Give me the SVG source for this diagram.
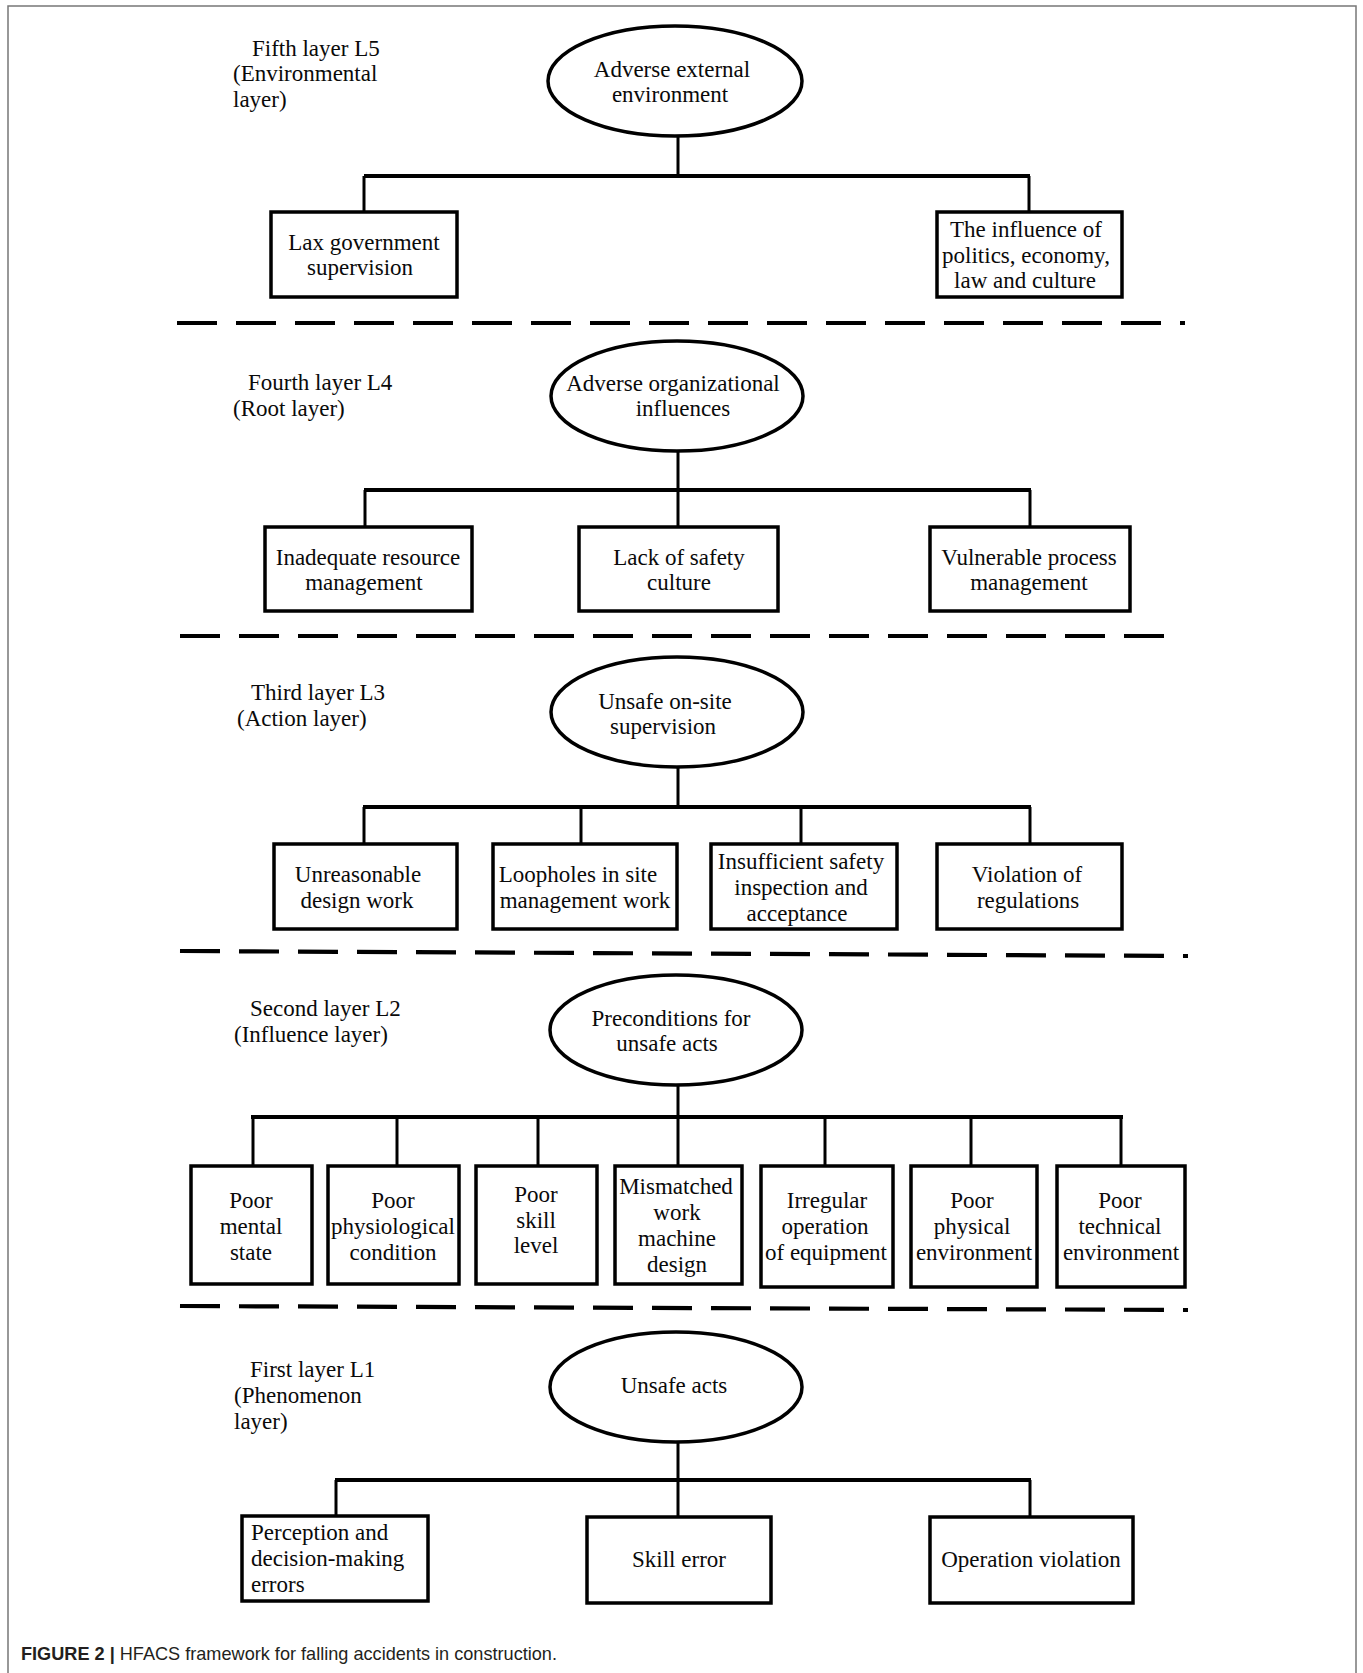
<svg xmlns="http://www.w3.org/2000/svg" width="1363" height="1673" viewBox="0 0 1363 1673">
<style>
.bg{fill:#fff}
.frame{fill:none;stroke:#777;stroke-width:1.5}
.node rect,.node ellipse{fill:#fff;stroke:#000;stroke-width:3.5}
.t{font-family:"Liberation Serif","Times New Roman",serif;font-size:23px;fill:#0a0a0a;text-anchor:middle}
.lbl{font-family:"Liberation Serif","Times New Roman",serif;font-size:23px;fill:#0a0a0a}
.conn line{stroke:#000;stroke-width:3;fill:none}
.conn line.bus{stroke-width:3.8}
.dash{stroke:#000;stroke-width:4.2;stroke-dasharray:40 19;fill:none}
.cap{font-family:"Liberation Sans",Arial,sans-serif;font-size:19px;fill:#231f20}
</style>
<rect class="bg" x="0" y="0" width="1363" height="1673"/>
<rect class="frame" x="8" y="6" width="1348" height="1720"/>

<!-- layer labels -->
<g id="labels">
<text class="lbl" x="252" y="56">Fifth layer L5</text>
<text class="lbl" x="233" y="81">(Environmental</text>
<text class="lbl" x="233" y="107">layer)</text>
<text class="lbl" x="248" y="390">Fourth layer L4</text>
<text class="lbl" x="233" y="416">(Root layer)</text>
<text class="lbl" x="251" y="700">Third layer L3</text>
<text class="lbl" x="237" y="726">(Action layer)</text>
<text class="lbl" x="250" y="1016">Second layer L2</text>
<text class="lbl" x="234" y="1042">(Influence layer)</text>
<text class="lbl" x="250" y="1377">First layer L1</text>
<text class="lbl" x="234" y="1403">(Phenomenon</text>
<text class="lbl" x="234" y="1429">layer)</text>
</g>

<!-- separators -->
<g id="separators">
<line class="dash" x1="177" y1="323" x2="1185" y2="323"/>
<line class="dash" x1="180" y1="636" x2="1168" y2="636"/>
<line class="dash" x1="180" y1="951" x2="1188" y2="956"/>
<line class="dash" x1="180" y1="1306" x2="1188" y2="1310"/>
</g>

<!-- connectors -->
<g id="connectors" class="conn">
<!-- L5 -->
<line x1="678" y1="136" x2="678" y2="176"/>
<line class="bus" x1="364" y1="176" x2="1030" y2="176"/>
<line x1="364" y1="176" x2="364" y2="212"/>
<line x1="1029" y1="176" x2="1029" y2="212"/>
<!-- L4 -->
<line x1="678" y1="450" x2="678" y2="490"/>
<line class="bus" x1="364" y1="490" x2="1031" y2="490"/>
<line x1="365" y1="490" x2="365" y2="527"/>
<line x1="678" y1="490" x2="678" y2="527"/>
<line x1="1030" y1="490" x2="1030" y2="527"/>
<!-- L3 -->
<line x1="678" y1="767" x2="678" y2="807"/>
<line class="bus" x1="363" y1="807" x2="1031" y2="807"/>
<line x1="364" y1="807" x2="364" y2="844"/>
<line x1="581" y1="807" x2="581" y2="844"/>
<line x1="801" y1="807" x2="801" y2="844"/>
<line x1="1030" y1="807" x2="1030" y2="844"/>
<!-- L2 -->
<line x1="678" y1="1085" x2="678" y2="1117"/>
<line class="bus" x1="251" y1="1117" x2="1123" y2="1117"/>
<line x1="253" y1="1117" x2="253" y2="1166"/>
<line x1="397" y1="1117" x2="397" y2="1166"/>
<line x1="538" y1="1117" x2="538" y2="1166"/>
<line x1="678" y1="1117" x2="678" y2="1166"/>
<line x1="825" y1="1117" x2="825" y2="1166"/>
<line x1="971" y1="1117" x2="971" y2="1166"/>
<line x1="1121" y1="1117" x2="1121" y2="1166"/>
<!-- L1 -->
<line x1="678" y1="1442" x2="678" y2="1480"/>
<line class="bus" x1="335" y1="1480" x2="1031" y2="1480"/>
<line x1="336" y1="1480" x2="336" y2="1516"/>
<line x1="678" y1="1480" x2="678" y2="1517"/>
<line x1="1030" y1="1480" x2="1030" y2="1517"/>
</g>

<!-- L5 nodes -->
<g id="adverse-external-environment" class="node">
<ellipse cx="675" cy="81" rx="127" ry="55"/>
<text class="t" x="672" y="77">Adverse external</text>
<text class="t" x="670" y="102">environment</text>
</g>
<g id="lax-government-supervision" class="node">
<rect x="271" y="212" width="186" height="85"/>
<text class="t" x="364" y="250">Lax government</text>
<text class="t" x="360" y="275">supervision</text>
</g>
<g id="influence-politics" class="node">
<rect x="937" y="212" width="185" height="85"/>
<text class="t" x="1026" y="237">The influence of</text>
<text class="t" x="1026" y="263">politics, economy,</text>
<text class="t" x="1025" y="288">law and culture</text>
</g>

<!-- L4 nodes -->
<g id="adverse-organizational-influences" class="node">
<ellipse cx="677" cy="396" rx="126" ry="55"/>
<text class="t" x="673" y="391">Adverse organizational</text>
<text class="t" x="683" y="416">influences</text>
</g>
<g id="inadequate-resource-management" class="node">
<rect x="265" y="527" width="207" height="84"/>
<text class="t" x="368" y="565">Inadequate resource</text>
<text class="t" x="364" y="590">management</text>
</g>
<g id="lack-of-safety-culture" class="node">
<rect x="579" y="527" width="199" height="84"/>
<text class="t" x="679" y="565">Lack of safety</text>
<text class="t" x="679" y="590">culture</text>
</g>
<g id="vulnerable-process-management" class="node">
<rect x="930" y="527" width="200" height="84"/>
<text class="t" x="1029" y="565">Vulnerable process</text>
<text class="t" x="1029" y="590">management</text>
</g>

<!-- L3 nodes -->
<g id="unsafe-on-site-supervision" class="node">
<ellipse cx="677" cy="712" rx="126" ry="55"/>
<text class="t" x="665" y="709">Unsafe on-site</text>
<text class="t" x="663" y="734">supervision</text>
</g>
<g id="unreasonable-design-work" class="node">
<rect x="274" y="844" width="183" height="85"/>
<text class="t" x="358" y="882">Unreasonable</text>
<text class="t" x="357" y="908">design work</text>
</g>
<g id="loopholes-site-management" class="node">
<rect x="493" y="844" width="184" height="85"/>
<text class="t" x="578" y="882">Loopholes in site</text>
<text class="t" x="585" y="908">management work</text>
</g>
<g id="insufficient-safety-inspection" class="node">
<rect x="711" y="844" width="186" height="85"/>
<text class="t" x="801" y="869">Insufficient safety</text>
<text class="t" x="801" y="895">inspection and</text>
<text class="t" x="797" y="921">acceptance</text>
</g>
<g id="violation-of-regulations" class="node">
<rect x="937" y="844" width="185" height="85"/>
<text class="t" x="1027" y="882">Violation of</text>
<text class="t" x="1028" y="908">regulations</text>
</g>

<!-- L2 nodes -->
<g id="preconditions-for-unsafe-acts" class="node">
<ellipse cx="676" cy="1030" rx="126" ry="55"/>
<text class="t" x="671" y="1026">Preconditions for</text>
<text class="t" x="667" y="1051">unsafe acts</text>
</g>
<g id="poor-mental-state" class="node">
<rect x="191" y="1166" width="121" height="118"/>
<text class="t" x="251" y="1208">Poor</text>
<text class="t" x="251" y="1234">mental</text>
<text class="t" x="251" y="1260">state</text>
</g>
<g id="poor-physiological-condition" class="node">
<rect x="328" y="1166" width="131" height="118"/>
<text class="t" x="393" y="1208">Poor</text>
<text class="t" x="393" y="1234">physiological</text>
<text class="t" x="393" y="1260">condition</text>
</g>
<g id="poor-skill-level" class="node">
<rect x="476" y="1166" width="121" height="118"/>
<text class="t" x="536" y="1202">Poor</text>
<text class="t" x="536" y="1228">skill</text>
<text class="t" x="536" y="1253">level</text>
</g>
<g id="mismatched-work-machine-design" class="node">
<rect x="615" y="1166" width="127" height="118"/>
<text class="t" x="676" y="1194">Mismatched</text>
<text class="t" x="677" y="1220">work</text>
<text class="t" x="677" y="1246">machine</text>
<text class="t" x="677" y="1272">design</text>
</g>
<g id="irregular-operation-of-equipment" class="node">
<rect x="761" y="1166" width="132" height="121"/>
<text class="t" x="827" y="1208">Irregular</text>
<text class="t" x="825" y="1234">operation</text>
<text class="t" x="826" y="1260">of equipment</text>
</g>
<g id="poor-physical-environment" class="node">
<rect x="911" y="1166" width="126" height="121"/>
<text class="t" x="972" y="1208">Poor</text>
<text class="t" x="972" y="1234">physical</text>
<text class="t" x="974" y="1260">environment</text>
</g>
<g id="poor-technical-environment" class="node">
<rect x="1057" y="1166" width="128" height="121"/>
<text class="t" x="1120" y="1208">Poor</text>
<text class="t" x="1120" y="1234">technical</text>
<text class="t" x="1121" y="1260">environment</text>
</g>

<!-- L1 nodes -->
<g id="unsafe-acts" class="node">
<ellipse cx="676" cy="1387" rx="126" ry="55"/>
<text class="t" x="674" y="1393">Unsafe acts</text>
</g>
<g id="perception-decision-errors" class="node">
<rect x="242" y="1516" width="186" height="85"/>
<text class="lbl" x="251" y="1540">Perception and</text>
<text class="lbl" x="251" y="1566">decision-making</text>
<text class="lbl" x="251" y="1592">errors</text>
</g>
<g id="skill-error" class="node">
<rect x="587" y="1517" width="184" height="86"/>
<text class="t" x="679" y="1567">Skill error</text>
</g>
<g id="operation-violation" class="node">
<rect x="930" y="1517" width="203" height="86"/>
<text class="t" x="1031" y="1567">Operation violation</text>
</g>

<text class="cap" x="21" y="1660" textLength="536" lengthAdjust="spacingAndGlyphs"><tspan font-weight="bold">FIGURE 2 | </tspan>HFACS framework for falling accidents in construction.</text>
</svg>
